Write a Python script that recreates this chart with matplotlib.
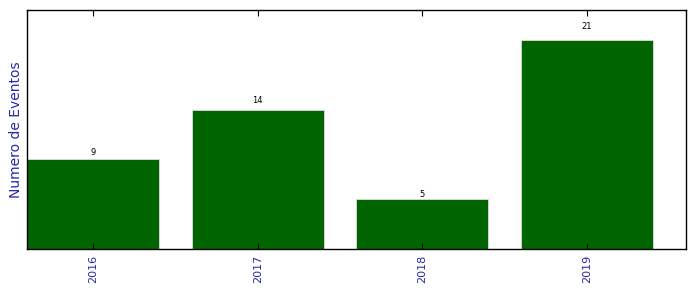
import matplotlib
matplotlib.use('Agg')
import matplotlib.pyplot as plt

anos = ['2016', '2017', '2018', '2019']
eventos = [9, 14, 5, 21]

fig = plt.figure(figsize=(6.96, 2.92), dpi=100)
ax = fig.add_axes([0.0388, 0.1473, 0.9468, 0.8185])

pos = list(range(len(anos)))
barras = ax.bar(pos, eventos, width=0.8, color='#006400', edgecolor='#dddddd', linewidth=0.6)

# rotulo acima de cada barra
for b, v in zip(barras, eventos):
	ax.text(b.get_x() + b.get_width() / 2, 1.05 * v, '%d' % v, ha='center', fontsize=6)

ax.set_xlim(-0.4, 3.6)
ax.set_ylim(0, 24)
ax.set_yticks([])
ax.set_xticks(pos)
ax.set_xticklabels(anos, rotation=90, color='#2828a8', fontsize=8)
ax.tick_params(axis='x', direction='in', top=True, length=4, width=0.8, pad=4)
ax.set_ylabel('Numero de Eventos', color='#2828a8', fontsize=10, labelpad=3)
for s in ax.spines.values():
	s.set_linewidth(1.0)

fig.savefig('out.png', dpi=100)
